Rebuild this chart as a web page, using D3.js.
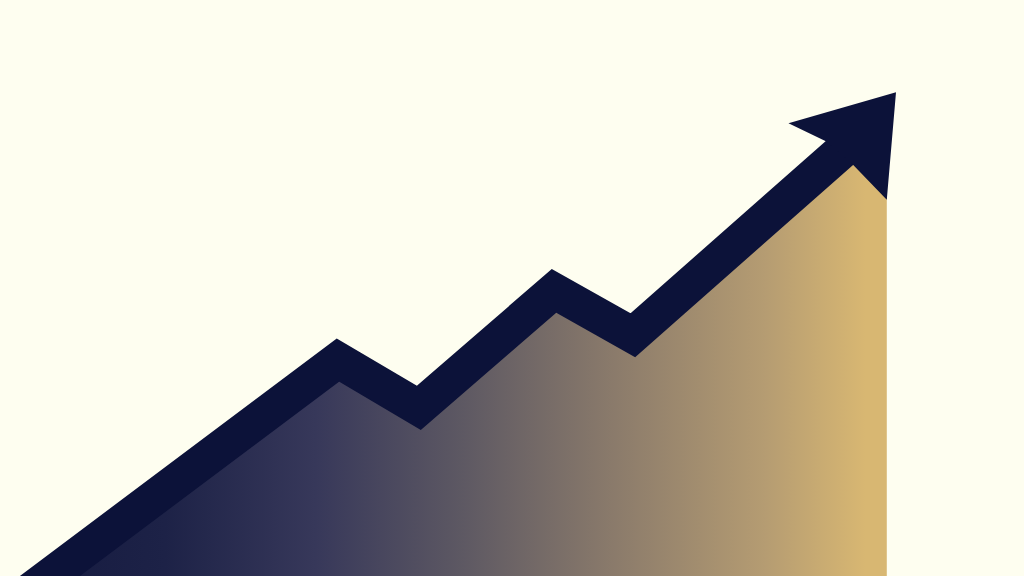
<!DOCTYPE html>
<html><head><meta charset="utf-8">
<script src="https://cdn.jsdelivr.net/npm/d3@7"></script>
<style>html,body{margin:0;padding:0;background:#fefef0;overflow:hidden}</style>
</head><body><svg id="c" width="1024" height="576"></svg>
<script>
// Data (x in "period" units 0-100, y in "value" units 0-100)
const periods = [0.3, 33.0, 40.9, 54.1, 61.8, 84.5];
const values  = [-6.1, 37.5, 29.2, 49.5, 41.8, 77.4];
const areaEndPeriod = 86.6;
const areaEndValue = 80.9;
// arrow head outline points (period, value)
const headPeriods = [87.5, 77.0, 80.6, 83.3, 86.6];
const headValues  = [84.0, 78.6, 75.5, 71.4, 65.3];
// gradient colour stops (period, colour)
const gradPeriods = [2, 16.1, 30.8, 45.4, 60.1, 74.7, 84.5];
const gradColors  = ["#151a40", "#1d2247", "#37385a", "#5e5963", "#8b7b6b", "#b59c72", "#d8b772"];

const W = 1024, H = 576;
const x = d3.scaleLinear().domain([0, 100]).range([0, W]);
const y = d3.scaleLinear().domain([0, 100]).range([H, 0]);
const svg = d3.select("#c");
svg.append("rect").attr("width", W).attr("height", H).attr("fill", "#fefef0");

const defs = svg.append("defs");
const grad = defs.append("linearGradient").attr("id", "g").attr("gradientUnits", "userSpaceOnUse")
  .attr("x1", x(0)).attr("x2", x(areaEndPeriod)).attr("y1", 0).attr("y2", 0);
gradPeriods.forEach((p, i) => grad.append("stop").attr("offset", p / areaEndPeriod).attr("stop-color", gradColors[i]));

const pts = periods.map((p, i) => ({p, v: values[i]}));
const areaPts = pts.slice(0, 5).concat([{p: areaEndPeriod, v: areaEndValue}]);
const area = d3.area().x(d => x(d.p)).y0(H + 40).y1(d => y(d.v));
svg.append("path").datum(areaPts).attr("d", area).attr("fill", "url(#g)");

const line = d3.line().x(d => x(d.p)).y(d => y(d.v));
svg.append("path").datum(pts).attr("d", line).attr("fill", "none")
  .attr("stroke", "#0c1239").attr("stroke-width", 36).attr("stroke-linejoin", "miter").attr("stroke-miterlimit", 10);

const head = headPeriods.map((p, i) => [x(p), y(headValues[i])]);
svg.append("path").attr("d", d3.line()(head) + "Z").attr("fill", "#0c1239");
</script></body></html>
